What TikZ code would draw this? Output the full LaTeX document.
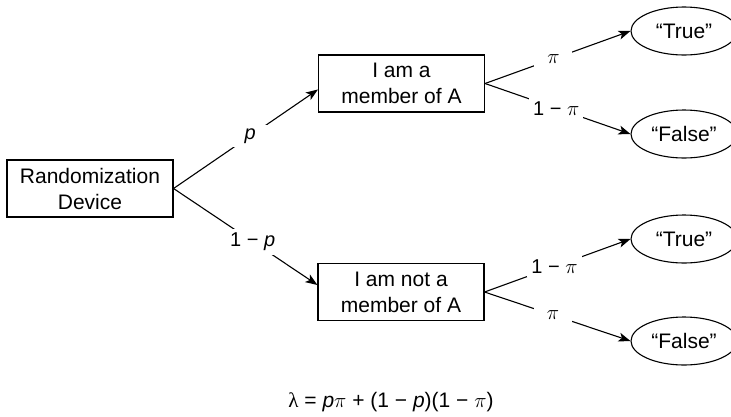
\documentclass[tikz,border=0pt]{standalone}
\usepackage{fontspec}
\setmainfont{Liberation Sans}
\newfontfamily\seriffont{Liberation Serif}
\usetikzlibrary{arrows.meta,shapes.geometric}
\begin{document}
\begin{tikzpicture}[x=1pt,y=-1pt,
  box/.style={draw,line width=1.1pt,minimum width=166pt,minimum height=57pt,align=center,inner sep=0pt,font=\fontsize{21}{26}\selectfont},
  ell/.style={draw,ellipse,line width=1.1pt,minimum width=106pt,minimum height=48pt,inner sep=0pt,font=\fontsize{21}{26}\selectfont},
  lbl/.style={fill=white,inner sep=4pt,minimum width=38pt,font=\fontsize{20}{24}\selectfont},
  arr/.style={line width=1.1pt,-{Stealth[length=12pt,width=9pt,inset=3pt]}}]
\useasboundingbox (0,0) rectangle (731,416);
\node[box] (rd) at (90,188.5) {Randomization\\Device};
\node[box] (a) at (401.5,83.5) {I am a\\member of A};
\node[box] (na) at (401,292) {I am not a\\member of A};
\node[ell] (t1) at (684,31) {“True”};
\node[ell] (f1) at (684,134) {“False”};
\node[ell] (t2) at (684,239) {“True”};
\node[ell] (f2) at (684,341) {“False”};
\draw[arr] (rd.east) -- node[lbl,pos=0.53] {\textit{p}} ([yshift=-6pt]a.west);
\draw[arr] (rd.east) -- node[lbl,pos=0.55] {1 − \textit{p}} ([yshift=7pt]na.west);
\draw[arr] (a.east) -- node[lbl,pos=0.47] {$\pi$} (t1.west);
\draw[arr] (a.east) -- node[lbl,pos=0.49] {1 − $\pi$} (f1.west);
\draw[arr] (na.east) -- node[lbl,pos=0.48] {1 − $\pi$} (t2.west);
\draw[arr] (na.east) -- node[lbl,pos=0.47] {$\pi$} (f2.west);
\node[font=\fontsize{21}{26}\selectfont] (eq) at (391,402) {{\seriffont λ} = \textit{p}$\pi$ + (1 − \textit{p})(1 − $\pi$)};
\end{tikzpicture}
\end{document}
